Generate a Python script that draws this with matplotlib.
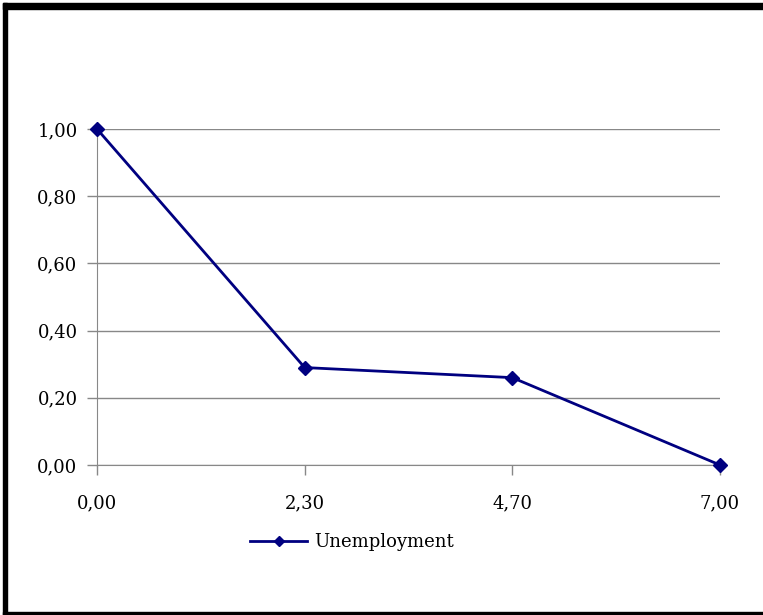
import numpy as np
import matplotlib.pyplot as plt
from matplotlib.patches import Rectangle

# data
categories = ['0,00', '2,30', '4,70', '7,00']
unemployment = [1.00, 0.29, 0.26, 0.00]
y_ticks = [0.0, 0.2, 0.4, 0.6, 0.8, 1.0]
y_labels = ['0,00', '0,20', '0,40', '0,60', '0,80', '1,00']

W, H = 763, 615
fig = plt.figure(figsize=(W / 100, H / 100), dpi=100)
plt.rcParams['font.family'] = ['DejaVu Serif']

# black frame pieces around the chart
fig.patches.append(Rectangle((3 / W, 0), 4 / W, 1 - 3 / H, transform=fig.transFigure,
                             color='black', zorder=0))
fig.patches.append(Rectangle((3 / W, 1 - 9 / H), 1, 6 / H, transform=fig.transFigure,
                             color='black', zorder=0))
fig.patches.append(Rectangle((3 / W, 0), 1, 3 / H, transform=fig.transFigure,
                             color='black', zorder=0))

ax = fig.add_axes([97 / W, 150 / H, (720 - 97) / W, (465 - 129) / H])
x = np.arange(len(categories))
ax.plot(x, unemployment, color='#000080', lw=2, marker='D', markersize=7,
        label='Unemployment', clip_on=False, zorder=3)

ax.set_xlim(0, len(categories) - 1)
ax.set_ylim(0, 1)
ax.set_xticks(x)
ax.set_xticklabels(categories, fontsize=13)
ax.set_yticks(y_ticks)
ax.set_yticklabels(y_labels, fontsize=13)
ax.tick_params(axis='both', direction='out', length=7, color='#888888', width=1)
ax.tick_params(axis='x', pad=14)
ax.tick_params(axis='y', pad=7)

ax.grid(axis='y', color='#888888', lw=1)
ax.set_axisbelow(True)
for s in ['top', 'right']:
    ax.spines[s].set_visible(False)
for s in ['left', 'bottom']:
    ax.spines[s].set_color('#888888')

fig.legend(loc='center', bbox_to_anchor=(352 / W, 1 - 542 / H), frameon=False,
           fontsize=13, handlelength=3.2, handletextpad=0.4, markerscale=0.7)

plt.savefig('out.png', dpi=100)
